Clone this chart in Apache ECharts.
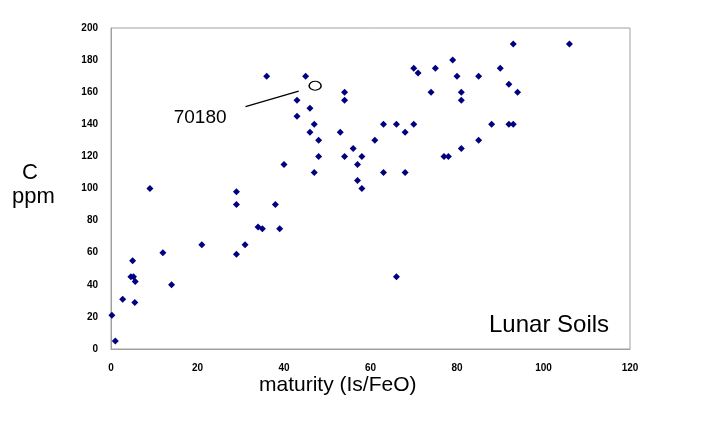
<!DOCTYPE html>
<html>
<head>
<meta charset="utf-8">
<script src="https://cdn.jsdelivr.net/npm/echarts@6/dist/echarts.min.js"></script>
<style>html,body{margin:0;padding:0;background:#fff}#c{width:714px;height:429px}</style>
</head>
<body>
<div id="c"></div>
<script>
// Lunar soils: maturity (Is/FeO) vs C (ppm)
var maturity = [36,45,54,54,43,46,43,47,46,53,48,56,48,54,58,57,40,47,57,58,9,29,
  93,106,79,70,71,75,90,80,85,92,74,81,94,81,63,66,70,68,88,92,93,61,85,81,77,78,63,68,
  29,38,34,35,39,21,31,29,12,5,4.6,5.2,5.6,14,2.7,5.5,0.2,1,66];
var carbon = [170,170,160,155,155,150,145,140,135,135,130,125,120,120,120,115,115,110,105,100,100,98,
  190,190,180,175,172,175,175,170,170,165,160,160,160,155,140,140,140,135,140,140,140,130,130,125,120,120,110,110,
  90,90,76,75,75,65,65,59,60,55,45,45,42,40,31,29,21,5,45];
// Sample 70180 (open circle) and its callout
var special = [[47.2, 164]];
var specialName = ['70180'];
var calloutLine = [[31.1, 151], [43.4, 160.7]];
var calloutLabelPos = [20.6, 144.3];
var xTicks = [0, 20, 40, 60, 80, 100, 120];
var yTicks = [0, 20, 40, 60, 80, 100, 120, 140, 160, 180, 200];

var pts = maturity.map(function (m, i) { return [m, carbon[i]]; });
var FF = 'Liberation Sans, Arial, sans-serif';

var chart = echarts.init(document.getElementById('c'), null, {renderer: 'canvas'});
chart.setOption({
  animation: false,
  backgroundColor: '#ffffff',
  grid: {left: 111, top: 28, right: 84, bottom: 80, show: true, borderColor: '#a0a0a0', borderWidth: 1, backgroundColor: 'transparent'},
  xAxis: {
    type: 'value', min: xTicks[0], max: xTicks[xTicks.length - 1], interval: 20,
    axisLine: {show: true, lineStyle: {color: '#a0a0a0', width: 1}},
    axisTick: {show: false}, splitLine: {show: false},
    axisLabel: {margin: 14, fontFamily: FF, fontWeight: 'bold', fontSize: 10, color: '#000'}
  },
  yAxis: {
    type: 'value', min: yTicks[0], max: yTicks[yTicks.length - 1], interval: 20,
    axisLine: {show: true, lineStyle: {color: '#a0a0a0', width: 1}},
    axisTick: {show: false}, splitLine: {show: false},
    axisLabel: {margin: 13, fontFamily: FF, fontWeight: 'bold', fontSize: 10, color: '#000'}
  },
  graphic: [
    {type: 'text', left: 22, top: 162, style: {text: 'C', font: '22px ' + FF, fill: '#000'}},
    {type: 'text', left: 12, top: 186, style: {text: 'ppm', font: '22px ' + FF, fill: '#000'}},
    {type: 'text', left: 259, top: 375, style: {text: 'maturity (Is/FeO)', font: '21px ' + FF, fill: '#000'}},
    {type: 'text', left: 489, top: 313, style: {text: 'Lunar Soils', font: '24px ' + FF, fill: '#000'}}
  ],
  series: [
    {type: 'scatter', data: pts, symbol: 'diamond', symbolSize: 7, itemStyle: {color: '#000080', opacity: 1}, z: 3},
    {type: 'line', data: calloutLine, symbol: 'none', lineStyle: {color: '#000', width: 1.3}, z: 2},
    {type: 'scatter', data: special, symbol: 'circle', symbolSize: [12, 9],
      itemStyle: {color: '#fff', borderColor: '#000', borderWidth: 1.3, opacity: 1}, z: 4},
    {type: 'scatter', data: [calloutLabelPos], symbolSize: 0, z: 4, itemStyle: {opacity: 1},
      label: {show: true, position: 'inside', formatter: specialName[0], fontSize: 19, fontFamily: FF, color: '#000', textBorderWidth: 0}}
  ]
});
</script>
</body>
</html>
